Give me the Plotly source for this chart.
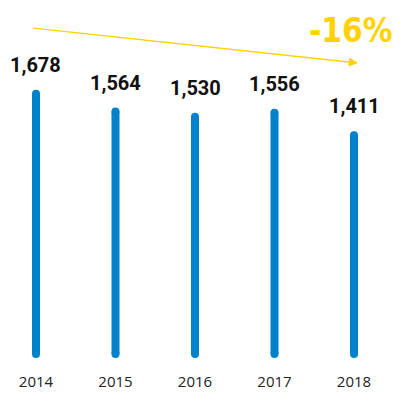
import plotly.graph_objects as go

years = ["2014", "2015", "2016", "2017", "2018"]
values = [1678, 1564, 1530, 1556, 1411]
value_labels = ["1,678", "1,564", "1,530", "1,556", "1,411"]
change_label = "-16%"

BAR = "#0082CA"
YEL = "#FFD200"

fig = go.Figure()
idx = list(range(len(years)))
for i, v, lab in zip(idx, values, value_labels):
    fig.add_trace(go.Scatter(
        x=[i, i], y=[0, v], mode="lines+markers",
        line=dict(color=BAR, width=8),
        marker=dict(color=BAR, size=8, line=dict(width=0)),
        hoverinfo="skip", showlegend=False))
    fig.add_annotation(x=i, y=v, text=f"<b>{lab}</b>",
                       showarrow=False, yanchor="bottom", yshift=15,
                       font=dict(family="Roboto", size=20, color="#111"))

# trend arrow
fig.add_annotation(x=4.05, y=1877, ax=-0.05, ay=2103, xref="x", yref="y",
                   axref="x", ayref="y", text="", showarrow=True,
                   arrowhead=2, arrowsize=1.4, arrowwidth=1.3, arrowcolor=YEL)
fig.add_annotation(x=1.0, y=0.939, xref="paper", yref="paper",
                   xanchor="right", yanchor="middle",
                   text=f"<b>{change_label}</b>", showarrow=False,
                   font=dict(family="DejaVu Sans Condensed", size=33, color=YEL))

fig.update_layout(
    width=386, height=387,
    margin=dict(l=0, r=0, t=0, b=24, autoexpand=False),
    plot_bgcolor="white", paper_bgcolor="white",
    xaxis=dict(range=[-0.352, 4.503], tickmode="array", tickvals=idx, ticktext=years,
               showgrid=False, zeroline=False, showline=False, ticks="",
               automargin=False,
               tickfont=dict(family="Open Sans", size=15, color="#222")),
    yaxis=dict(range=[-110, 2232], visible=False, showgrid=False, zeroline=False,
               automargin=False),
)
fig.write_html("out.html")
